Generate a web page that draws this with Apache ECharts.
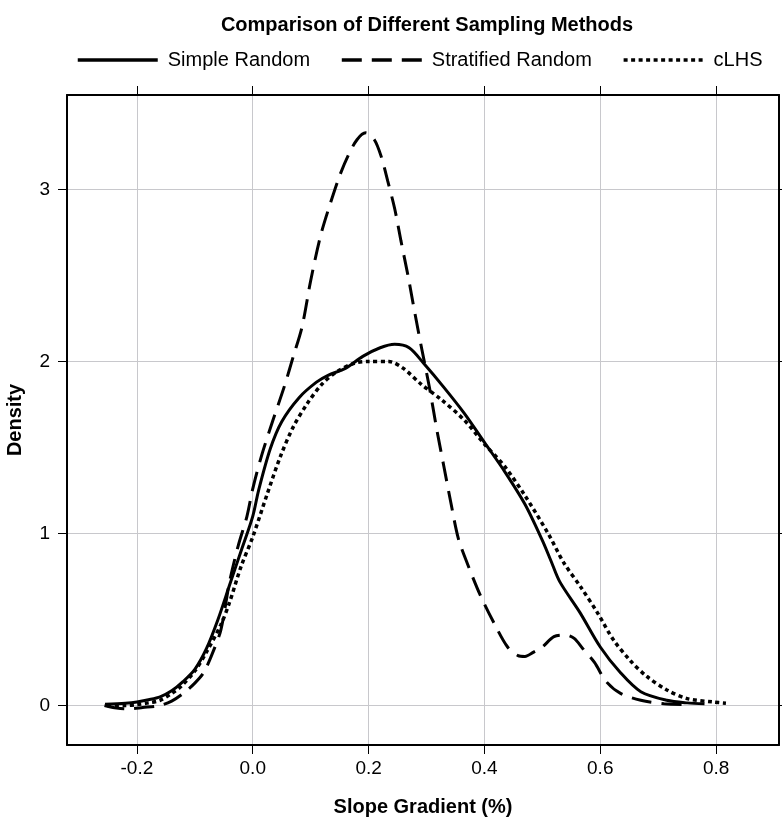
<!DOCTYPE html>
<html>
<head>
<meta charset="utf-8">
<title>Comparison of Different Sampling Methods</title>
<script src="https://cdn.jsdelivr.net/npm/echarts@6/dist/echarts.min.js"></script>
<style>
	html, body { margin: 0; padding: 0; background: #fff; }
	#chartContainer { width: 782px; height: 819px; }
</style>
</head>
<body>
<div id="chartContainer"></div>
<script>
// density curves, [slope gradient, density]
var simpleRandom = [
	[-0.255, 0.007], [-0.22, 0.013], [-0.2, 0.02], [-0.18, 0.033], [-0.16, 0.05],
	[-0.14, 0.085], [-0.12, 0.14], [-0.1, 0.21], [-0.08, 0.33], [-0.06, 0.5],
	[-0.04, 0.7], [-0.02, 0.9], [0.0, 1.1], [0.01, 1.25], [0.03, 1.49],
	[0.05, 1.65], [0.08, 1.79], [0.11, 1.88], [0.13, 1.92], [0.16, 1.96],
	[0.19, 2.03], [0.22, 2.08], [0.245, 2.1], [0.27, 2.08], [0.295, 1.99],
	[0.33, 1.85], [0.365, 1.7], [0.4, 1.53], [0.435, 1.36], [0.47, 1.17],
	[0.5, 0.96], [0.515, 0.84], [0.53, 0.72], [0.565, 0.54], [0.6, 0.34],
	[0.635, 0.19], [0.67, 0.08], [0.715, 0.03], [0.75, 0.015], [0.78, 0.01]
];
var stratifiedRandom = [
	[-0.256, 0.0], [-0.235, -0.015], [-0.215, -0.02], [-0.19, -0.012], [-0.16, 0.0],
	[-0.14, 0.025], [-0.12, 0.07], [-0.1, 0.13], [-0.085, 0.19], [-0.07, 0.3],
	[-0.055, 0.44], [-0.04, 0.72], [-0.025, 0.93], [-0.01, 1.1], [0.0, 1.26],
	[0.015, 1.45], [0.035, 1.66], [0.055, 1.86], [0.07, 2.03], [0.085, 2.2],
	[0.1, 2.47], [0.117, 2.73], [0.134, 2.92], [0.15, 3.08], [0.165, 3.2],
	[0.18, 3.29], [0.195, 3.33], [0.21, 3.29], [0.222, 3.19], [0.233, 3.05],
	[0.245, 2.89], [0.256, 2.7], [0.268, 2.5], [0.28, 2.28], [0.292, 2.07],
	[0.305, 1.85], [0.318, 1.6], [0.33, 1.39], [0.342, 1.18], [0.355, 0.97],
	[0.37, 0.83], [0.393, 0.64], [0.418, 0.47], [0.44, 0.34], [0.458, 0.29],
	[0.47, 0.285], [0.485, 0.31], [0.5, 0.34], [0.52, 0.4], [0.54, 0.41],
	[0.555, 0.39], [0.57, 0.33], [0.59, 0.25], [0.61, 0.14], [0.635, 0.07],
	[0.67, 0.03], [0.71, 0.01], [0.75, 0.005]
];
var cLHS = [
	[-0.251, 0.0], [-0.22, 0.0], [-0.2, 0.005], [-0.18, 0.015], [-0.16, 0.03],
	[-0.14, 0.07], [-0.124, 0.11], [-0.1, 0.2], [-0.08, 0.31], [-0.055, 0.47],
	[-0.04, 0.6], [-0.02, 0.81], [0.0, 0.98], [0.025, 1.23], [0.048, 1.45],
	[0.07, 1.62], [0.095, 1.76], [0.12, 1.87], [0.145, 1.94], [0.175, 1.99],
	[0.2, 2.0], [0.235, 2.0], [0.26, 1.96], [0.29, 1.87], [0.325, 1.78],
	[0.365, 1.66], [0.4, 1.52], [0.435, 1.39], [0.47, 1.22], [0.51, 1.0],
	[0.537, 0.83], [0.566, 0.69], [0.595, 0.54], [0.623, 0.38], [0.652, 0.26],
	[0.68, 0.17], [0.715, 0.09], [0.75, 0.04], [0.795, 0.02], [0.817, 0.013]
];
var seriesNames = ['Simple Random', 'Stratified Random', 'cLHS'];
var xTicks = [-0.2, 0.0, 0.2, 0.4, 0.6, 0.8];
var yTicks = [0, 1, 2, 3];

var font = 'Liberation Sans, Arial, Helvetica, sans-serif';

function lineSeries(name, data, type, width) {
	return {
		name: name,
		type: 'line',
		data: data,
		smooth: 0.3,
		symbol: 'none',
		lineStyle: { color: '#000', width: width, type: type, cap: 'butt' },
		itemStyle: { color: '#000' }
	};
}

var myChart = echarts.init(document.getElementById('chartContainer'), null, { renderer: 'canvas' });
var option = {
	backgroundColor: '#fff',
	animation: false,
	title: {
		text: 'Comparison of Different Sampling Methods',
		left: 422,
		textAlign: 'center',
		top: 10,
		textStyle: { fontFamily: font, fontSize: 20, fontWeight: 'bold', color: '#000' }
	},
	legend: {
		top: 45,
		left: 71,
		itemWidth: 80,
		itemHeight: 12,
		itemGap: 30,
		// hide the legend symbol, keep only the line sample
		itemStyle: { color: 'rgba(0,0,0,0)', borderWidth: 0, opacity: 0 },
		lineStyle: { width: 3.5 },
		textStyle: { fontFamily: font, fontSize: 20, color: '#000', padding: [0, 0, 0, 5] },
		data: seriesNames
	},
	grid: { left: 67, right: 3, top: 95, bottom: 74, outerBoundsMode: 'none' },
	xAxis: [
		{
			type: 'value',
			min: -0.3207,
			max: 0.9086,
			name: 'Slope Gradient (%)',
			nameLocation: 'middle',
			nameGap: 52,
			nameTextStyle: { fontFamily: font, fontSize: 20, fontWeight: 'bold', color: '#000' },
			axisLine: { onZero: false, lineStyle: { color: '#000', width: 2 } },
			axisTick: { length: 9, customValues: xTicks, lineStyle: { color: '#000', width: 1 } },
			axisLabel: {
				customValues: xTicks, margin: 14, color: '#000', fontFamily: font, fontSize: 19,
				formatter: function (v) { return v.toFixed(1); }
			},
			splitLine: { show: true, lineStyle: { color: '#c8c8cc', width: 1 } }
		},
		{
			type: 'value',
			position: 'top',
			min: -0.3207,
			max: 0.9086,
			axisLine: { onZero: false, lineStyle: { color: '#000', width: 2 } },
			axisTick: { length: 9, customValues: xTicks, lineStyle: { color: '#000', width: 1 } },
			axisLabel: { show: false },
			splitLine: { show: false }
		}
	],
	yAxis: [
		{
			type: 'value',
			min: -0.23,
			max: 3.55,
			name: 'Density',
			nameLocation: 'middle',
			nameGap: 42,
			nameTextStyle: { fontFamily: font, fontSize: 20, fontWeight: 'bold', color: '#000' },
			axisLine: { onZero: false, lineStyle: { color: '#000', width: 2 } },
			axisTick: { length: 9, customValues: yTicks, lineStyle: { color: '#000', width: 1 } },
			axisLabel: { customValues: yTicks, margin: 17, color: '#000', fontFamily: font, fontSize: 19 },
			splitLine: { show: true, lineStyle: { color: '#c8c8cc', width: 1 } }
		},
		{
			type: 'value',
			position: 'right',
			min: -0.23,
			max: 3.55,
			axisLine: { onZero: false, lineStyle: { color: '#000', width: 2 } },
			axisTick: { length: 9, customValues: yTicks, lineStyle: { color: '#000', width: 1 } },
			axisLabel: { show: false },
			splitLine: { show: false }
		}
	],
	series: [
		lineSeries(seriesNames[0], simpleRandom, 'solid', 3),
		lineSeries(seriesNames[1], stratifiedRandom, [20, 10], 3),
		lineSeries(seriesNames[2], cLHS, [4, 3.5], 3.5)
	]
};
myChart.setOption(option);
</script>
</body>
</html>
